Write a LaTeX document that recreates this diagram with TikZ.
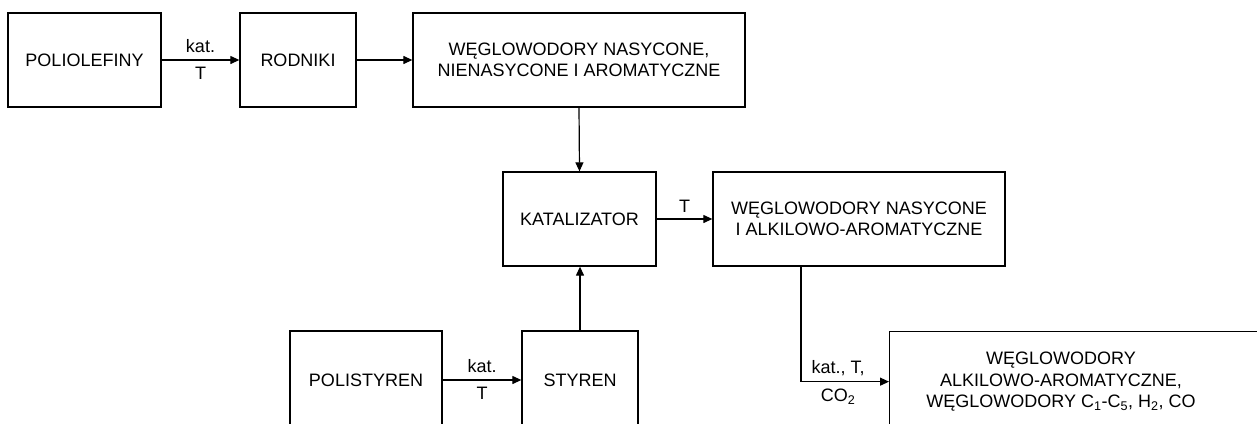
\documentclass[tikz,border=0pt]{standalone}
\usepackage{fontspec}
\setmainfont{Liberation Sans}
\usetikzlibrary{arrows.meta,calc}
\begin{document}
\begin{tikzpicture}[x=1pt,y=-1pt,
  box/.style={draw, line width=1.3pt, minimum height=94pt, inner sep=0pt, align=center,
    font=\fontsize{18}{21.5}\selectfont},
  lbl/.style={font=\fontsize{18}{21}\selectfont, inner sep=0pt},
  arr/.style={line width=1.2pt, -{Triangle[length=9pt,width=8pt]}}]
\useasboundingbox (0,0) rectangle (1257,423);
\clip (0,0) rectangle (1257,423);
\node[box, minimum width=153pt] (polio) at (84.5,60) {POLIOLEFINY};
\node[box, minimum width=116pt] (rod) at (298,60) {RODNIKI};
\node[box, minimum width=332pt] (w1) at (579,60) {WĘGLOWODORY NASYCONE,\\NIENASYCONE I AROMATYCZNE};
\node[box, minimum width=153pt] (kat) at (579.5,219) {KATALIZATOR};
\node[box, minimum width=292pt] (w2) at (859,219) {WĘGLOWODORY NASYCONE\\I ALKILOWO-AROMATYCZNE};
\node[box, minimum width=152pt, minimum height=98pt] (polis) at (366,380) {POLISTYREN};
\node[box, minimum width=116pt, minimum height=98pt] (sty) at (580,380) {STYREN};
\node[box, minimum width=420pt, minimum height=100pt, anchor=north west] (fin) at (889,331) {};
\node[lbl, align=center, font=\fontsize{18}{21.5}\selectfont] (fintxt) at (1061,382)
  {WĘGLOWODORY\\ALKILOWO-AROMATYCZNE,\\WĘGLOWODORY C\textsubscript{1}-C\textsubscript{5}, H\textsubscript{2}, CO};
\coordinate (c1) at (801,381);
\draw[arr] (polio) -- (rod) node[lbl, midway, above=7pt] (l1) {kat.} node[lbl, midway, below=7pt] (l2) {T};
\draw[arr] (rod) -- (w1);
\draw[arr] (w1.south) -- (kat.north);
\draw[arr] (kat) -- (w2) node[lbl, midway, above=6pt] (l3) {T};
\draw[arr] (sty.north) -- (kat.south -| sty.north);
\draw[arr] (polis) -- (sty) node[lbl, midway, above=7pt] (l4) {kat.} node[lbl, midway, below=7pt] (l5) {T};
\draw[arr] (w2.south -| c1) |- (fin.west);
\node[lbl] (l6) at (838,368) {kat., T,};
\node[lbl] (l7) at (838,397) {CO\textsubscript{2}};
\end{tikzpicture}
\end{document}
